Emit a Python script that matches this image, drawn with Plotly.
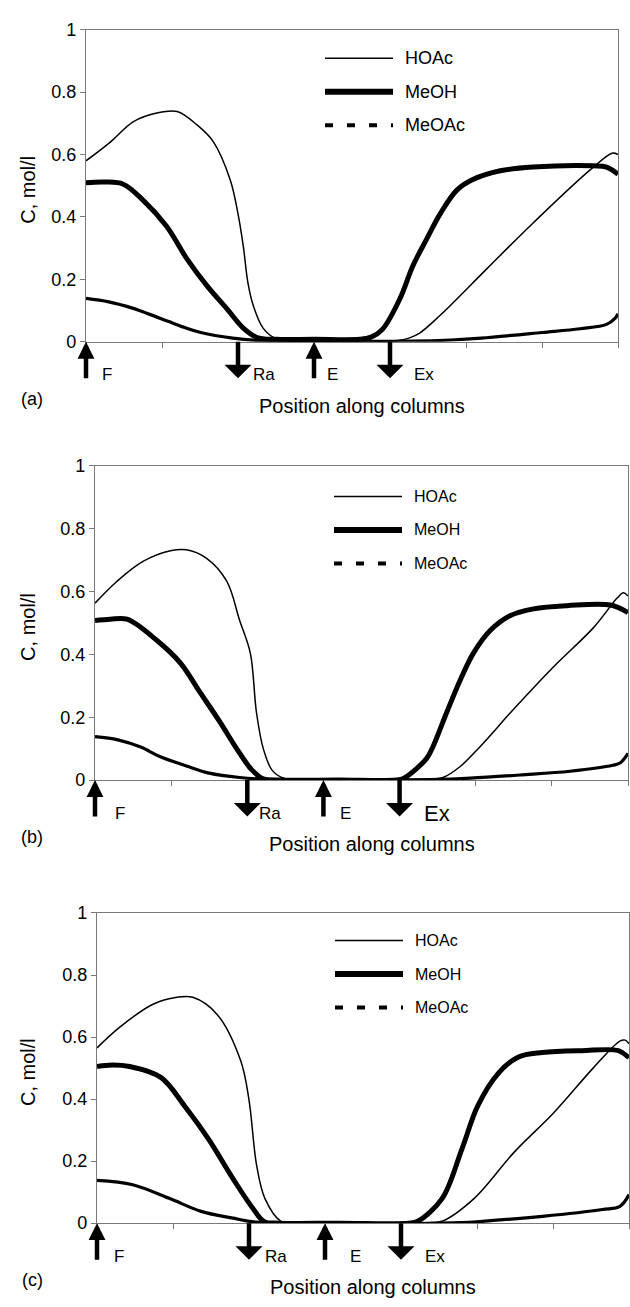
import plotly.graph_objects as go

W, H = 630, 1307
FONT = "Liberation Sans, Arial, sans-serif"

# ---- concentration profiles along the SMB columns (position in column units) ----
# (a)
HOAC_A_X = [0, 0.32, 0.62, 0.93, 1.2, 1.46, 1.67, 1.9, 2.0, 2.07, 2.13, 2.2, 2.33, 2.5, 2.7,
            3.5, 4.1, 4.25, 4.39, 4.66, 5.27, 5.88, 6.63, 6.93, 7.0]
HOAC_A_Y = [0.58, 0.64, 0.705, 0.733, 0.738, 0.695, 0.643, 0.517, 0.41, 0.306, 0.19, 0.117, 0.044,
            0.01, 0.003, 0.003, 0.004, 0.012, 0.028, 0.085, 0.233, 0.38, 0.55, 0.605, 0.6]
MEOH_A_X = [0, 0.25, 0.49, 0.75, 1.06, 1.33, 1.59, 1.85, 2.07, 2.25, 2.5, 3.0, 3.6, 3.75, 3.9,
            4.13, 4.3, 4.48, 4.66, 4.88, 5.09, 5.45, 5.88, 6.67, 6.85, 7.0]
MEOH_A_Y = [0.51, 0.512, 0.505, 0.454, 0.37, 0.265, 0.18, 0.107, 0.044, 0.014, 0.008, 0.008, 0.008,
            0.015, 0.04, 0.138, 0.243, 0.328, 0.41, 0.486, 0.52, 0.548, 0.56, 0.564, 0.56, 0.537]
MEOAC_A_X = [0, 0.3, 0.61, 0.84, 1.09, 1.3, 1.51, 1.93, 2.3, 3.0, 4.3, 4.8, 5.2, 6.0, 6.5, 6.85,
             6.96, 7.0]
MEOAC_A_Y = [0.139, 0.128, 0.108, 0.088, 0.065, 0.046, 0.03, 0.012, 0.004, 0.002, 0.002, 0.006,
             0.012, 0.03, 0.042, 0.056, 0.075, 0.09]

# (b)
HOAC_B_X = [0, 0.29, 0.63, 0.99, 1.2, 1.47, 1.73, 1.9, 2.04, 2.12, 2.21, 2.33, 2.5, 3.5, 4.4,
            4.57, 4.8, 5.06, 5.5, 6.02, 6.55, 6.86, 6.94, 7.0]
HOAC_B_Y = [0.563, 0.633, 0.696, 0.73, 0.733, 0.705, 0.633, 0.508, 0.404, 0.216, 0.1, 0.03, 0.004,
            0.0, 0.002, 0.008, 0.044, 0.107, 0.226, 0.36, 0.486, 0.58, 0.596, 0.586]
MEOH_B_X = [0, 0.2, 0.42, 0.81, 1.12, 1.38, 1.64, 1.86, 2.05, 2.2, 2.4, 3.2, 3.95, 4.05, 4.23,
            4.36, 4.44, 4.62, 4.8, 4.97, 5.19, 5.45, 5.76, 6.2, 6.77, 7.0]
MEOH_B_Y = [0.508, 0.512, 0.512, 0.445, 0.373, 0.279, 0.185, 0.1, 0.035, 0.005, 0.0, 0.0, 0.0,
            0.005, 0.038, 0.07, 0.107, 0.216, 0.32, 0.404, 0.476, 0.523, 0.545, 0.555, 0.557, 0.533]
MEOAC_B_X = [0, 0.3, 0.6, 0.85, 1.2, 1.5, 1.9, 2.3, 4.5, 4.93, 5.58, 6.24, 6.8, 6.9, 7.0]
MEOAC_B_Y = [0.138, 0.128, 0.105, 0.075, 0.045, 0.022, 0.008, 0.002, 0.002, 0.006, 0.016, 0.028,
             0.047, 0.055, 0.085]

# (c)
HOAC_C_X = [0, 0.3, 0.73, 1.05, 1.26, 1.58, 1.89, 2.0, 2.1, 2.21, 2.42, 2.6, 3.5, 4.4, 4.54,
            4.96, 5.49, 6.01, 6.54, 6.88, 6.95, 7.0]
HOAC_C_Y = [0.565, 0.632, 0.705, 0.728, 0.728, 0.673, 0.524, 0.397, 0.187, 0.079, 0.006, 0.0, 0.0,
            0.002, 0.006, 0.079, 0.229, 0.356, 0.503, 0.587, 0.59, 0.578]
MEOH_C_X = [0, 0.2, 0.43, 0.84, 1.16, 1.47, 1.79, 2.05, 2.2, 2.4, 3.2, 4.1, 4.22, 4.54, 4.8,
            5.01, 5.28, 5.54, 5.86, 6.38, 6.86, 7.0]
MEOH_C_Y = [0.505, 0.51, 0.505, 0.47, 0.375, 0.27, 0.143, 0.048, 0.005, 0.0, 0.0, 0.0, 0.006,
            0.079, 0.238, 0.378, 0.483, 0.535, 0.55, 0.556, 0.556, 0.533]
MEOAC_C_X = [0, 0.47, 0.95, 1.37, 1.79, 2.1, 4.8, 5.07, 5.86, 6.65, 6.88, 7.0]
MEOAC_C_Y = [0.138, 0.124, 0.08, 0.038, 0.016, 0.003, 0.002, 0.006, 0.022, 0.044, 0.054, 0.092]

SPECIES = ["HOAc", "MeOH", "MeOAc"]
LINE_WIDTHS = [1.5, 5, 3.2]
PANEL_TAGS = ["(a)", "(b)", "(c)"]

# inlet / outlet ports along the columns: label, position, direction
PORT_LABELS = ["F", "Ra", "E", "Ex"]
PORT_POS = [0, 2, 3, 4]
PORT_UP = [True, False, True, False]

Y_TICKS = [0, 0.2, 0.4, 0.6, 0.8, 1]
Y_TICK_TEXT = ["0", "0.2", "0.4", "0.6", "0.8", "1"]
X_TICKS = list(range(8))

PROFILES = [
    [(HOAC_A_X, HOAC_A_Y), (MEOH_A_X, MEOH_A_Y), (MEOAC_A_X, MEOAC_A_Y)],
    [(HOAC_B_X, HOAC_B_Y), (MEOH_B_X, MEOH_B_Y), (MEOAC_B_X, MEOAC_B_Y)],
    [(HOAC_C_X, HOAC_C_Y), (MEOH_C_X, MEOH_C_Y), (MEOAC_C_X, MEOAC_C_Y)],
]

# panel frames in pixels: left, right, top, bottom
FRAMES = [(86, 618, 20, 337), (95, 628, 463, 782), (97, 629, 917, 1232)]
LEGEND_POS = [(325, 49, 34, 18), (334, 494, 34, 16), (335, 945, 34, 16)]  # x0, y of first row, row step, font
LABEL_SHIFT = [[14, 13, 11, 22], [18, 10, 15, 22], [15, 14, 23, 22]]
EX_FONT = [17, 22, 17]


def px(x):
    return x / W


def py(y):
    return 1 - y / H


fig = go.Figure()
annotations = []
shapes = []

for i, (frame, profiles) in enumerate(zip(FRAMES, PROFILES)):
    l, r, t, b = frame
    n = "" if i == 0 else str(i + 1)
    xa, ya = "x" + n, "y" + n

    for name, (xs, ys), w in zip(SPECIES, profiles, LINE_WIDTHS):
        fig.add_trace(go.Scatter(
            x=xs, y=ys, mode="lines", name=name, showlegend=False,
            line=dict(color="black", width=w, shape="spline", smoothing=1.0),
            xaxis=xa, yaxis=ya,
        ))

    axis_common = dict(showline=True, mirror=True, linecolor="#7a7a7a", linewidth=1.2,
                       showgrid=False, zeroline=False, ticks="outside", ticklen=5,
                       tickcolor="#7a7a7a", tickwidth=1)
    fig.layout["xaxis" + n] = dict(
        domain=[px(l), px(r)], range=[0, 7], tickvals=X_TICKS, showticklabels=False,
        anchor=ya, **axis_common)
    fig.layout["yaxis" + n] = dict(
        domain=[py(b), py(t)], range=[0, 1], tickvals=Y_TICKS, ticktext=Y_TICK_TEXT,
        tickfont=dict(family=FONT, size=18, color="black"), anchor=xa, **axis_common)

    # ports: arrows pointing into (up) or out of (down) the columns
    for k, (lab, pos, up) in enumerate(zip(PORT_LABELS, PORT_POS, PORT_UP)):
        annotations.append(dict(
            x=pos, y=0, xref=xa, yref=ya, ax=0, ay=38, text="", showarrow=True,
            arrowhead=2, arrowsize=0.75, arrowwidth=4.5, arrowcolor="black",
            arrowside="end" if up else "start", standoff=0, startstandoff=0,
        ))
        annotations.append(dict(
            x=pos, y=0, xref=xa, yref=ya + " domain", xshift=LABEL_SHIFT[i][k], yshift=-33,
            xanchor="left", yanchor="middle", showarrow=False, text=lab,
            font=dict(family=FONT, size=EX_FONT[i] if lab == "Ex" else 17, color="black"),
        ))

    # axis titles and panel tag
    annotations.append(dict(
        x=px(28), y=py((t + b) / 2 + 4), xref="paper", yref="paper", text="C, mol/l",
        textangle=-90, showarrow=False, font=dict(family=FONT, size=20, color="black"),
        xanchor="center", yanchor="middle"))
    annotations.append(dict(
        x=px((l + r) / 2 + 10), y=py(b + 65), xref="paper", yref="paper",
        text="Position along columns", showarrow=False,
        font=dict(family=FONT, size=20, color="black"), xanchor="center", yanchor="middle"))
    annotations.append(dict(
        x=px(32), y=py(b + 58), xref="paper", yref="paper", text=PANEL_TAGS[i],
        showarrow=False, font=dict(family=FONT, size=18, color="black"),
        xanchor="center", yanchor="middle"))

    # legend box inside the panel
    lx, ly, step, fs = LEGEND_POS[i]
    dashes = ["solid", "solid", "8px,14px,8px,14px,8px,14px,2px,100px"]
    widths = [1.5, 6, 4]
    for k, name in enumerate(SPECIES):
        yy = ly + k * step
        shapes.append(dict(type="line", xref="paper", yref="paper",
                           x0=px(lx), x1=px(lx + 68), y0=py(yy), y1=py(yy),
                           line=dict(color="black", width=widths[k], dash=dashes[k])))
        annotations.append(dict(
            x=px(lx + 78), y=py(yy), xref="paper", yref="paper", text=name,
            showarrow=False, xanchor="left", yanchor="middle",
            font=dict(family=FONT, size=fs, color="black")))

fig.update_layout(
    width=W, height=H, margin=dict(l=0, r=0, t=0, b=0),
    paper_bgcolor="white", plot_bgcolor="white", showlegend=False,
    annotations=annotations, shapes=shapes,
)

fig.write_html("out.html")
